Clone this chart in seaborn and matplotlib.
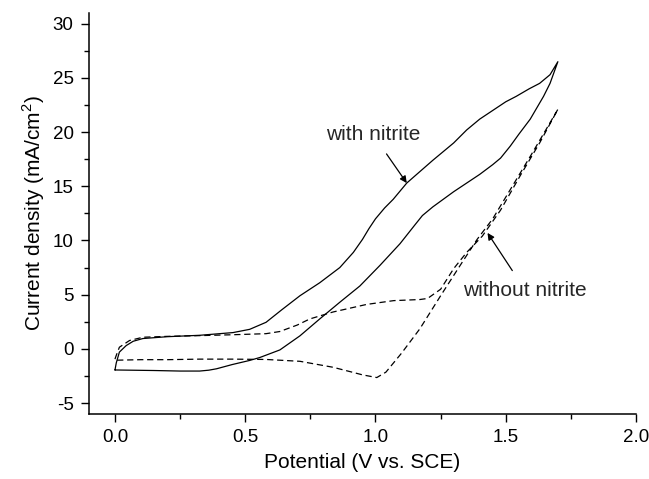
import pandas as pd
import seaborn as sns
import matplotlib.pyplot as plt
from matplotlib.ticker import MultipleLocator

# cyclic voltammograms (forward scan then reverse scan)
with_x = [0.0, 0.005, 0.017, 0.043, 0.07, 0.107, 0.2, 0.325, 0.453, 0.517, 0.58, 0.64,
          0.71, 0.786, 0.863, 0.915, 0.95, 0.975, 1.0, 1.035, 1.068, 1.12, 1.22, 1.30,
          1.35, 1.40, 1.45, 1.50, 1.54, 1.59, 1.63, 1.67, 1.70,
          1.67, 1.645, 1.594, 1.55, 1.517, 1.48, 1.45, 1.40, 1.35, 1.30, 1.26, 1.22, 1.18,
          1.15, 1.094, 1.017, 0.94, 0.863, 0.786, 0.71, 0.633, 0.556, 0.517, 0.45, 0.39,
          0.36, 0.325, 0.25, 0.15, 0.0]
with_y = [-1.95, -1.3, -0.3, 0.3, 0.7, 0.95, 1.12, 1.25, 1.5, 1.8, 2.45, 3.6,
          4.9, 6.1, 7.5, 8.9, 10.1, 11.1, 12.0, 13.0, 13.8, 15.3, 17.4, 19.0,
          20.2, 21.2, 22.0, 22.8, 23.3, 24.0, 24.5, 25.3, 26.5,
          24.5, 23.3, 21.2, 19.8, 18.7, 17.6, 17.0, 16.1, 15.3, 14.5, 13.8, 13.1, 12.3,
          11.4, 9.7, 7.7, 5.8, 4.3, 2.76, 1.2, -0.1, -0.8, -1.07, -1.45, -1.84,
          -1.97, -2.05, -2.05, -2.0, -1.95]

without_x = [0.0, 0.005, 0.017, 0.056, 0.107, 0.2, 0.325, 0.45, 0.58, 0.633, 0.70, 0.748,
             0.837, 0.966, 1.07, 1.17, 1.2, 1.25, 1.30, 1.35, 1.41, 1.48, 1.556, 1.63, 1.70,
             1.6, 1.5, 1.45, 1.39, 1.325, 1.25, 1.17, 1.1, 1.04, 1.005,
             0.95, 0.91, 0.837, 0.71, 0.58, 0.45, 0.325, 0.2, 0.1, 0.0]
without_y = [-0.95, -0.6, 0.15, 0.77, 1.07, 1.15, 1.22, 1.3, 1.4, 1.6, 2.2, 2.76,
             3.4, 4.1, 4.45, 4.55, 4.65, 5.5, 7.4, 8.9, 10.4, 12.8, 16.0, 19.0, 22.1,
             18.0, 14.0, 12.0, 10.1, 7.7, 4.9, 1.84, -0.4, -2.15, -2.65,
             -2.4, -2.15, -1.7, -1.15, -0.98, -0.95, -0.95, -1.0, -1.0, -1.05]

df_with = pd.DataFrame({"E": with_x, "j": with_y})
df_without = pd.DataFrame({"E": without_x, "j": without_y})

sns.set_theme(style="ticks")
plt.rcParams["font.family"] = ["Liberation Sans", "DejaVu Sans"]
plt.rcParams["mathtext.fontset"] = "custom"
plt.rcParams["mathtext.rm"] = "Liberation Sans"
plt.rcParams["axes.unicode_minus"] = False

fig = plt.figure(figsize=(6.49, 4.79), dpi=100)
ax = fig.add_axes([0.137, 0.136, 0.843, 0.837])

sns.lineplot(data=df_with, x="E", y="j", sort=False, estimator=None,
             color="black", linewidth=0.9, ax=ax)
sns.lineplot(data=df_without, x="E", y="j", sort=False, estimator=None,
             color="black", linewidth=0.9, linestyle=(0, (5, 3)), ax=ax)

ax.set_xlim(-0.1, 2.0)
ax.set_ylim(-6, 31)
ax.xaxis.set_major_locator(MultipleLocator(0.5))
ax.xaxis.set_minor_locator(MultipleLocator(0.25))
ax.yaxis.set_major_locator(MultipleLocator(5))
ax.yaxis.set_minor_locator(MultipleLocator(2.5))
ax.set_xticks([0.0, 0.5, 1.0, 1.5, 2.0])
ax.set_xticklabels(["0.0", "0.5", "1.0", "1.5", "2.0"])
ax.tick_params(which="major", direction="out", length=6, width=1, pad=5, labelsize=13.5,
               colors="black")
ax.tick_params(which="minor", direction="out", length=3.3, width=1, colors="black")
sns.despine(ax=ax)
for s in ["left", "bottom"]:
    ax.spines[s].set_linewidth(1.1)
    ax.spines[s].set_color("black")

ax.set_xlabel("Potential (V vs. SCE)", fontsize=15, labelpad=5, color="black")
ax.set_ylabel(r"Current density (mA/cm$^\mathregular{2}$)", fontsize=15, labelpad=4,
              color="black")

ax.annotate("with nitrite", xy=(1.12, 15.3), xytext=(0.99, 19.8),
            ha="center", va="center", fontsize=15,
            arrowprops=dict(arrowstyle="-|>", color="black", lw=0.9,
                            mutation_scale=10, shrinkA=6, shrinkB=0))
ax.annotate("without nitrite", xy=(1.43, 10.7), xytext=(1.575, 5.4),
            ha="center", va="center", fontsize=15,
            arrowprops=dict(arrowstyle="-|>", color="black", lw=0.9,
                            mutation_scale=10, shrinkA=6, shrinkB=0))

fig.savefig("out.png", dpi=100)
